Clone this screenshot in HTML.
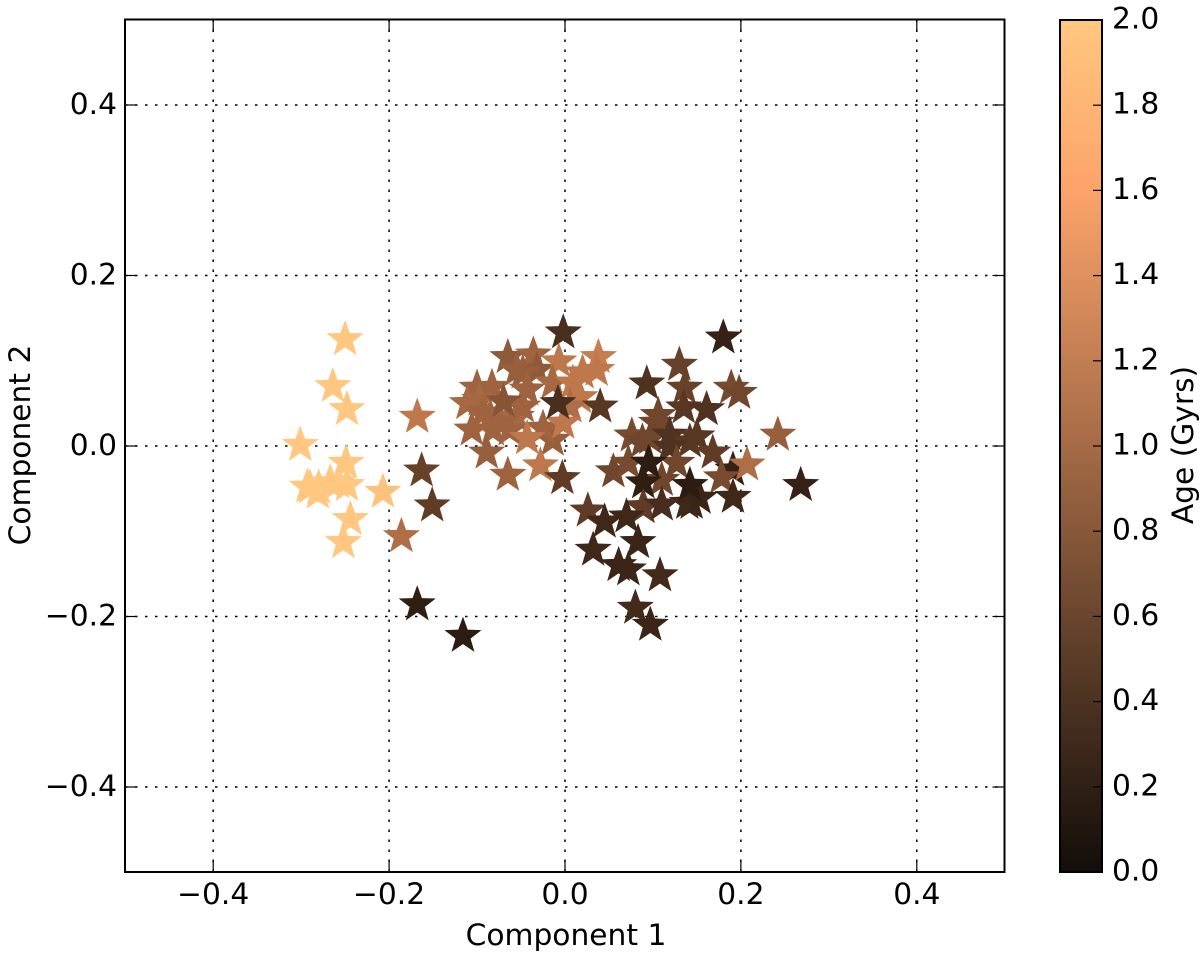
<!DOCTYPE html>
<html lang="en">
<head>
<meta charset="utf-8">
<title>Component scatter chart</title>
<style>
html,body{margin:0;padding:0;background:#fff;width:1200px;height:957px;overflow:hidden}
svg{display:block}
text{font-family:"DejaVu Sans","Liberation Sans",sans-serif;fill:#000}
</style>
</head>
<body>
<svg id="chart" xmlns="http://www.w3.org/2000/svg" width="1200" height="957" viewBox="0 0 1200 957">
<defs>
<linearGradient id="copper" x1="0" y1="1" x2="0" y2="0">
<stop offset="0" stop-color="#120d09"/>
<stop offset="0.8" stop-color="#fca36a"/>
<stop offset="1" stop-color="#ffc77f"/>
</linearGradient>
</defs>
<g id="grid"></g>
<g id="stars"></g>
<rect x="125" y="19.5" width="879.5" height="852.5" fill="none" stroke="#000" stroke-width="2"/>
<g id="ticks"></g>
<g id="labels"></g>
<text x="566" y="945" font-size="29.7" text-anchor="middle">Component 1</text>
<text x="30" y="445" font-size="29.7" text-anchor="middle" transform="rotate(-90 30 445)">Component 2</text>
<rect x="1060" y="20" width="42" height="852" fill="url(#copper)" stroke="#000" stroke-width="2"/>
<g id="cbar-ticks"></g>
<text x="1193" y="445" font-size="29.7" text-anchor="middle" transform="rotate(-90 1193 445)">Age (Gyrs)</text>
</svg>
<script>
const xTickValues = [-0.4, -0.2, 0.0, 0.2, 0.4];
const yTickValues = [-0.4, -0.2, 0.0, 0.2, 0.4];
const cbarTickValues = [0.0, 0.2, 0.4, 0.6, 0.8, 1.0, 1.2, 1.4, 1.6, 1.8, 2.0];

const component1 = [
-.250,-.264,-.248,-.301,-.249,-.207,-.244,-.252,-.280,-.293,-.267,-.248,-.281,-.258,-.290,
-.168,-.163,-.151,-.186,-.168,-.116,
-.002,-.065,-.036,-.055,-.032,-.048,-.007,.038,.036,.020,-.100,-.083,-.111,-.097,-.043,-.014,.009,.017,.006,.040,-.106,-.093,-.085,-.074,-.055,-.048,-.082,-.063,-.070,-.089,-.065,-.014,-.025,-.043,-.002,-.008,-.028,-.003,
.180,.130,.093,.136,.189,.198,.135,.161,.106,.242,.076,.088,.104,.097,.119,.150,.142,.168,.119,.055,.072,.191,.207,.178,.127,.110,.089,.095,.089,.144,.191,.268,.139,.153,.089,.110,.142,.070,.026,.045,.083,.032,.061,.072,.108,.080,.097
];
const component2 = [
.125,.070,.043,.001,-.020,-.054,-.086,-.113,-.049,-.048,-.043,-.046,-.055,-.043,-.049,
.034,-.029,-.070,-.106,-.186,-.223,
.133,.104,.107,.089,.089,.086,.099,.104,.089,.086,.068,.069,.050,.054,.066,.074,.074,.057,.046,.046,.019,.039,.034,.030,.034,.046,.019,.019,.052,-.008,-.034,.007,.021,.009,.027,.050,-.023,-.038,
.127,.095,.073,.068,.068,.062,.045,.043,.036,.013,.012,.005,.027,.009,.013,.011,.005,-.008,-.001,-.030,-.020,-.028,-.022,-.037,-.020,-.040,-.071,-.020,-.043,-.067,-.060,-.046,-.067,-.061,-.072,-.069,-.046,-.083,-.076,-.089,-.113,-.122,-.140,-.145,-.152,-.190,-.210
];
const ageGyrs = [
2,2,2,2,2,1.95,2,2,2,2,2,2,2,2,2,
1.2,.65,.6,1.1,.3,.28,
.47,.9,1,.95,.9,.95,1.2,1.25,1.2,1.2,1,1,1.05,1.05,1,1.05,1.2,1.2,1.1,.55,1,1,1,1,1.05,1,1,1,.85,.95,1,.95,1,1.2,1.2,.47,1.2,.6,
.33,.65,.5,.65,.75,.7,.55,.5,.7,.95,.75,.7,.7,.7,.5,.55,.55,.6,.5,.7,.75,.33,1.1,.75,.7,.7,.6,.28,.3,.37,.4,.33,.4,.37,.6,.45,.28,.4,.6,.4,.37,.4,.37,.37,.42,.42,.37
];

const NS = 'http://www.w3.org/2000/svg';
const xScale = v => 565 + 879.5 * v;
const yScale = v => 446 - 852.5 * v;
const cScale = v => 872 - 426 * v;
const fmt = v => (v < 0 ? '\u2212' : '') + Math.abs(v).toFixed(1);
const copper = a => {
  const t = a / 2;
  return 'rgb(' + Math.round(255 * Math.min(1, 1.25 * t)) + ',' + Math.round(255 * 0.7812 * t) + ',' + Math.round(255 * 0.4975 * t) + ')';
};
function make(tag, attrs, parent) {
  const el = document.createElementNS(NS, tag);
  for (const k in attrs) el.setAttribute(k, attrs[k]);
  parent.appendChild(el);
  return el;
}
const gridG = document.getElementById('grid');
const ticksG = document.getElementById('ticks');
const labelsG = document.getElementById('labels');
const cbarG = document.getElementById('cbar-ticks');

xTickValues.forEach(v => {
  const x = xScale(v);
  const g = make('line', {x1: x, x2: x, y1: 19.5, y2: 872, stroke: '#000', 'stroke-width': 1.5, 'stroke-dasharray': '2.5 7.5'}, gridG);
  
  
  const t1 = make('line', {x1: x, x2: x, y1: 872, y2: 860, stroke: '#000', 'stroke-width': 1.2}, ticksG);
  
  
  const t2 = make('line', {x1: x, x2: x, y1: 19.5, y2: 31.5, stroke: '#000', 'stroke-width': 1.2}, ticksG);
  
  
  const l = make('text', {x: x, y: 904, 'font-size': 29.7, 'text-anchor': 'middle'}, labelsG);
  
  
  l.textContent = fmt(v);
});
yTickValues.forEach(v => {
  const y = yScale(v);
  const g = make('line', {x1: 125, x2: 1004.5, y1: y, y2: y, stroke: '#000', 'stroke-width': 1.5, 'stroke-dasharray': '2.5 7.5'}, gridG);
  
  
  const t1 = make('line', {x1: 125, x2: 137, y1: y, y2: y, stroke: '#000', 'stroke-width': 1.2}, ticksG);
  
  
  const t2 = make('line', {x1: 1004.5, x2: 992.5, y1: y, y2: y, stroke: '#000', 'stroke-width': 1.2}, ticksG);
  
  
  const l = make('text', {x: 117, y: y + 9, 'font-size': 29.7, 'text-anchor': 'end'}, labelsG);
  
  
  l.textContent = fmt(v);
});
cbarTickValues.forEach(v => {
  const y = cScale(v);
  if (v > 0 && v < 2) {
    const t = make('line', {x1: 1102, x2: 1093, y1: y, y2: y, stroke: '#000', 'stroke-width': 1.2}, cbarG);
    
    
  }
  const l = make('text', {x: 1112, y: y + 8.5, 'font-size': 29.7}, cbarG);
  
  
  l.textContent = v.toFixed(1);
});

const starsG = document.getElementById('stars');
const R = 19.5, r = R * 0.41;
component1.forEach((cx, i) => {
  const px = xScale(cx), py = yScale(component2[i]);
  let d = '';
  for (let k = 0; k < 10; k++) {
    const rad = k % 2 ? r : R;
    const ang = -Math.PI / 2 + k * Math.PI / 5;
    d += (k ? 'L' : 'M') + (px + rad * Math.cos(ang)).toFixed(2) + ' ' + (py + rad * Math.sin(ang)).toFixed(2);
  }
  const s = make('path', {d: d + 'Z', fill: copper(ageGyrs[i])}, starsG);
  
  
});
</script>
</body>
</html>
